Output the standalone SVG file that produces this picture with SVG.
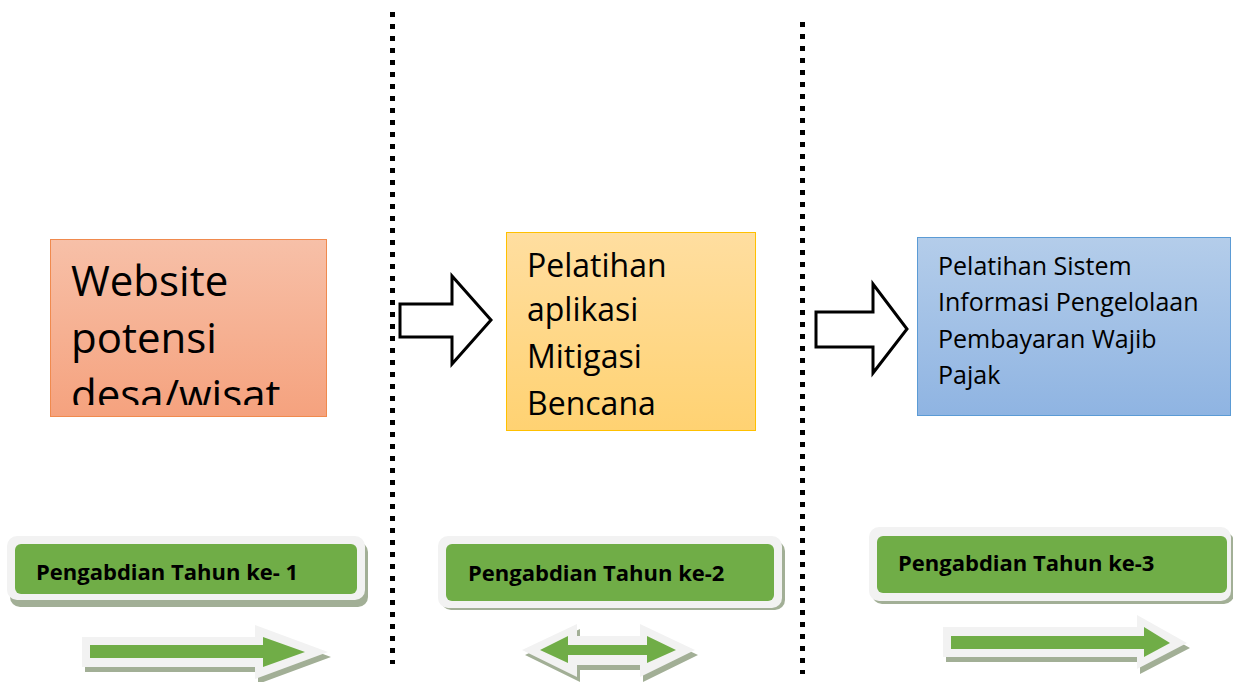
<svg xmlns="http://www.w3.org/2000/svg" width="1233" height="682" viewBox="0 0 1233 682">
<defs>
<linearGradient id="gOrange" x1="0" y1="0" x2="0" y2="1"><stop offset="0" stop-color="#F7C0A8"/><stop offset="1" stop-color="#F5A27E"/></linearGradient>
<linearGradient id="gYellow" x1="0" y1="0" x2="0" y2="1"><stop offset="0" stop-color="#FFDEA0"/><stop offset="1" stop-color="#FFD272"/></linearGradient>
<linearGradient id="gBlue" x1="0" y1="0" x2="0" y2="1"><stop offset="0" stop-color="#B4CDEA"/><stop offset="1" stop-color="#8FB4E2"/></linearGradient>
<clipPath id="clip1"><rect x="50" y="239" width="276" height="166"/></clipPath>
<style>
.dots{fill:none;stroke:#000;stroke-width:5;stroke-dasharray:5 7}
.blk{fill:#fff;stroke:#000;stroke-width:3;stroke-linejoin:miter}
.txt{font-family:"Open Sans","Noto Sans",sans-serif;fill:#000}
.lbl{font-family:"Open Sans","Noto Sans",sans-serif;font-weight:700;font-size:22px;fill:#000}
.shadow{fill:#A2AF96}
.rim{fill:#F2F2F2}
.green{fill:#70AD47}
</style>
</defs>

<g id="separators">
<line class="dots" x1="392.5" y1="12" x2="392.5" y2="664"/>
<line class="dots" x1="802.5" y1="22" x2="802.5" y2="674"/>
</g>

<g id="node-website">
<rect x="50.5" y="239.5" width="276" height="177" fill="url(#gOrange)" stroke="#F08A4E" stroke-width="1"/>
<g clip-path="url(#clip1)">
<text class="txt" font-size="42" x="71" y="296">Website</text>
<text class="txt" font-size="42" x="71" y="353">potensi</text>
<text class="txt" font-size="42" x="71" y="410">desa/wisat</text>
</g>
</g>

<g id="node-mitigasi">
<rect x="506.5" y="232.5" width="249" height="198" fill="url(#gYellow)" stroke="#FFC000" stroke-width="1"/>
<text class="txt" font-size="32" x="527" y="277">Pelatihan</text>
<text class="txt" font-size="32" x="527" y="321">aplikasi</text>
<text class="txt" font-size="32" x="527" y="368">Mitigasi</text>
<text class="txt" font-size="32" x="527" y="415">Bencana</text>
</g>

<g id="node-pajak">
<rect x="917.5" y="237.5" width="313" height="178" fill="url(#gBlue)" stroke="#5B9BD5" stroke-width="1"/>
<text class="txt" font-size="25" x="938" y="275">Pelatihan Sistem</text>
<text class="txt" font-size="25" x="938" y="311">Informasi Pengelolaan</text>
<text class="txt" font-size="25" x="938" y="348">Pembayaran Wajib</text>
<text class="txt" font-size="25" x="938" y="384">Pajak</text>
</g>

<g id="connectors">
<polygon class="blk" points="400,304 452,304 452,276 491,320 452,364 452,337 400,337"/>
<polygon class="blk" points="816,312 873,312 873,284 907,329 873,373 873,347 816,347"/>
</g>

<g id="label-1">
<rect class="shadow" x="10" y="542" width="358" height="65" rx="10"/>
<rect class="rim" x="7" y="536" width="358" height="64" rx="10"/>
<rect class="green" x="15" y="544" width="342" height="50" rx="6"/>
<text class="lbl" x="36" y="580">Pengabdian Tahun ke- 1</text>
</g>

<g id="label-2">
<rect class="shadow" x="441" y="541" width="344" height="69" rx="10"/>
<rect class="rim" x="438" y="536" width="344" height="72" rx="10"/>
<rect class="green" x="446" y="544" width="328" height="57" rx="6"/>
<text class="lbl" x="468" y="581">Pengabdian Tahun ke-2</text>
</g>

<g id="label-3">
<rect class="shadow" x="872" y="532" width="362" height="72" rx="10"/>
<rect class="rim" x="869" y="527" width="362" height="74" rx="10"/>
<rect class="green" x="877" y="536" width="350" height="57" rx="6"/>
<text class="lbl" x="898" y="571">Pengabdian Tahun ke-3</text>
</g>

<g id="arrow-1">
<polygon class="shadow" points="85,642 258,642 258,630 331,657 258,684 258,672 85,672"/>
<polygon class="rim" points="82,637 255,637 255,625 328,652 255,679 255,667 82,667"/>
<polygon class="green" points="90,645 263,645 263,637 305,652 263,667 263,658 90,658"/>
</g>

<g id="arrow-2">
<polygon class="shadow" points="525,655 580,629 580,641 643,641 643,629 698,655 643,682 643,670 580,670 580,682"/>
<polygon class="rim" points="522,650 577,624 577,636 640,636 640,624 695,650 640,677 640,665 577,665 577,677"/>
<polygon class="green" points="540,650 568,636 568,645 647,645 647,636 676,650 647,663 647,655 568,655 568,663"/>
</g>

<g id="arrow-3">
<polygon class="shadow" points="946,632 1140,632 1140,620 1190,648 1140,674 1140,662 946,662"/>
<polygon class="rim" points="943,627 1137,627 1137,615 1187,643 1137,669 1137,657 943,657"/>
<polygon class="green" points="951,636 1144,636 1144,627 1170,643 1144,657 1144,649 951,649"/>
</g>
</svg>
